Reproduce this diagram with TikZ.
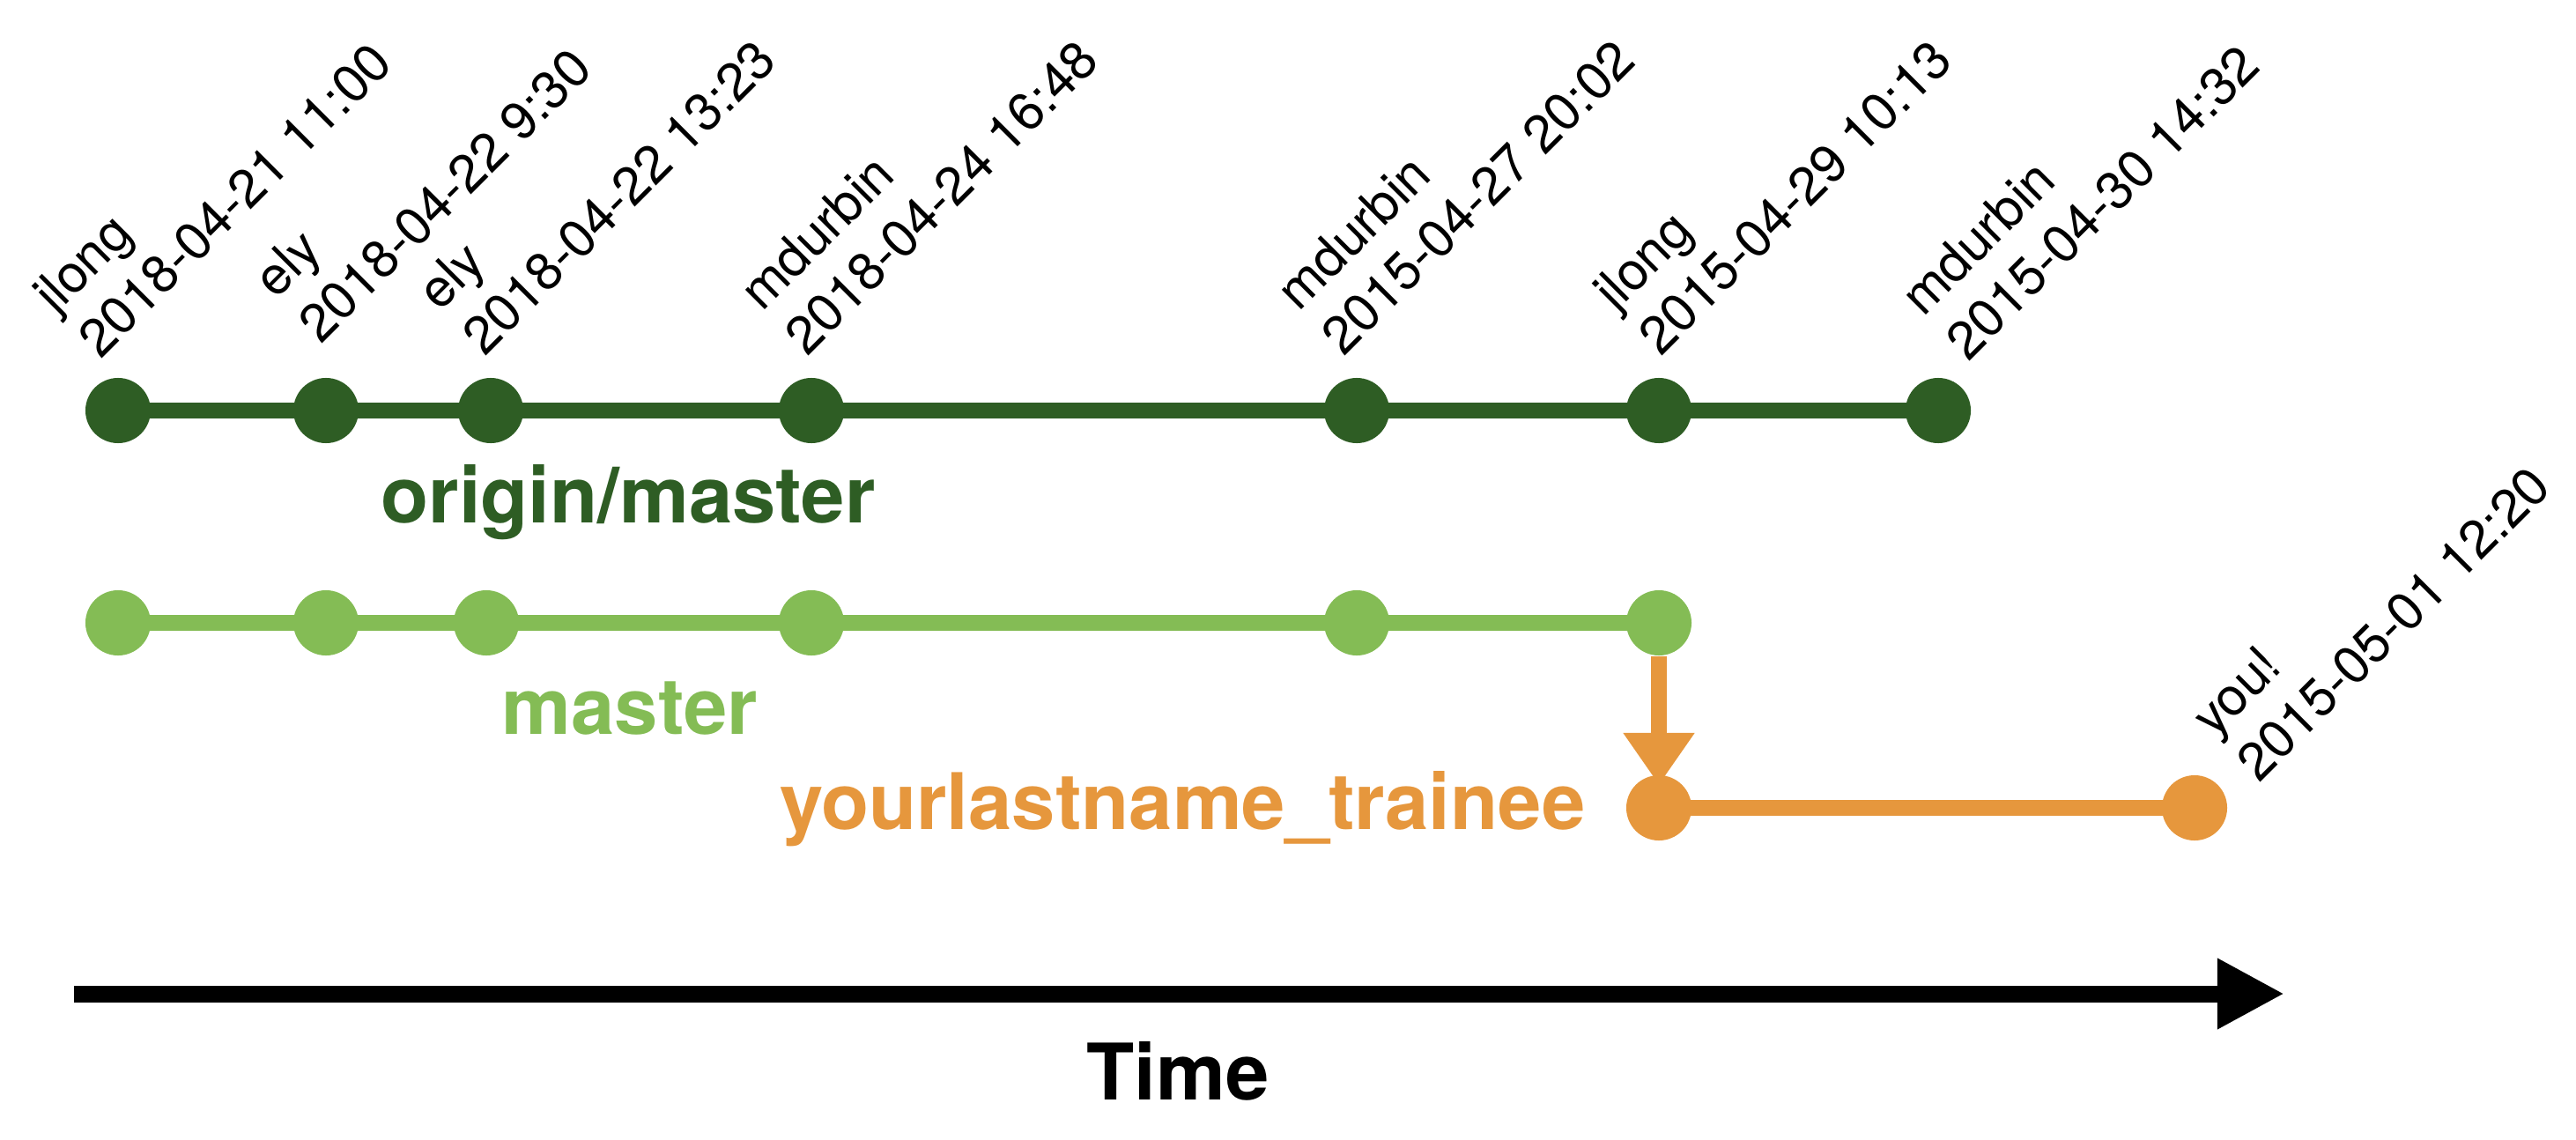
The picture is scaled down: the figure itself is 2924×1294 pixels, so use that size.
\documentclass[tikz,border=0pt]{standalone}
\usepackage{fontspec}
\setmainfont{TeX Gyre Heros}
\usepackage{tikz}
\usetikzlibrary{arrows.meta}
\definecolor{origingreen}{RGB}{46,93,36}
\definecolor{mastergreen}{RGB}{132,188,85}
\definecolor{traineeorange}{RGB}{230,151,61}

\tikzset{
    commit/.style={circle, fill=#1, minimum size=0.74cm, inner sep=0pt},
    branch/.style={draw=#1, line width=0.18cm},
    stamp/.style={rotate=45, anchor=south west, inner sep=0pt, align=left,
        font=\fontsize{17}{20.5}\selectfont},
    bname/.style={text=#1, inner sep=0pt, font=\bfseries\fontsize{25.2}{30}\selectfont}
}

\begin{document}
\begin{tikzpicture}[x=0.01cm, y=-0.01cm]
                        \useasboundingbox (0, 0) rectangle (2924, 1294);

                        \coordinate (o1) at (134, 466);
                        \coordinate (o2) at (370, 466);
                        \coordinate (o3) at (557, 466);
                        \coordinate (o4) at (921, 466);
                        \coordinate (o5) at (1540, 466);
                        \coordinate (o6) at (1883, 466);
                        \coordinate (o7) at (2200, 466);
                        \draw[branch=origingreen] (o1) -- (o7);
                        \foreach \c in {o1, o2, o3, o4, o5, o6, o7}
                            \node (n\c) at (\c) [commit=origingreen] {};

                        \coordinate (m1) at (134, 707);
                        \coordinate (m2) at (370, 707);
                        \coordinate (m3) at (552, 707);
                        \coordinate (m4) at (921, 707);
                        \coordinate (m5) at (1540, 707);
                        \coordinate (m6) at (1883, 707);
                        \draw[branch=mastergreen] (m1) -- (m6);
                        \foreach \c in {m1, m2, m3, m4, m5, m6}
                            \node (n\c) at (\c) [commit=mastergreen] {};

                        \node (y1) at (1883, 917) [commit=traineeorange] {};
                        \node (y2) at (2491, 917) [commit=traineeorange] {};
                        \draw[branch=traineeorange, -{Triangle[length=0.59cm, width=0.77cm]}, shorten >=0.26cm] (nm6) -- (y1.center);
                        \draw[branch=traineeorange] (y1.center) -- (y2.center);

                        \node (s1) at (115, 410) [stamp] {jlong\\2018-04-21 11:00};
                        \node (s2) at (365, 393) [stamp] {ely\\2018-04-22 9:30};
                        \node (s3) at (551, 407) [stamp] {ely\\2018-04-22 13:23};
                        \node (s4) at (917, 407) [stamp] {mdurbin\\2018-04-24 16:48};
                        \node (s5) at (1526, 407) [stamp] {mdurbin\\2015-04-27 20:02};
                        \node (s6) at (1886, 407) [stamp] {jlong\\2015-04-29 10:13};
                        \node (s7) at (2235, 413) [stamp] {mdurbin\\2015-04-30 14:32};
                        \node (s8) at (2565, 891) [stamp] {you!\\2015-05-01 12:20};

                        \node (origin) at (713, 593) [bname=origingreen, anchor=base] {origin/master};
                        \node (master) at (715, 833) [bname=mastergreen, anchor=base] {master};
                        \node (trainee) at (1800, 941) [bname=traineeorange, anchor=base east] {yourlastname\_trainee};

                        \coordinate (t0) at (84, 1128);
                        \coordinate (t1) at (2593, 1128);
                        \draw[line width=0.19cm, -{Triangle[length=0.76cm, width=0.75cm]}] (t0) -- (t1);
                        \node (time) at (1337, 1248) [bname=black, anchor=base] {Time};
                    \end{tikzpicture}
\end{document}
